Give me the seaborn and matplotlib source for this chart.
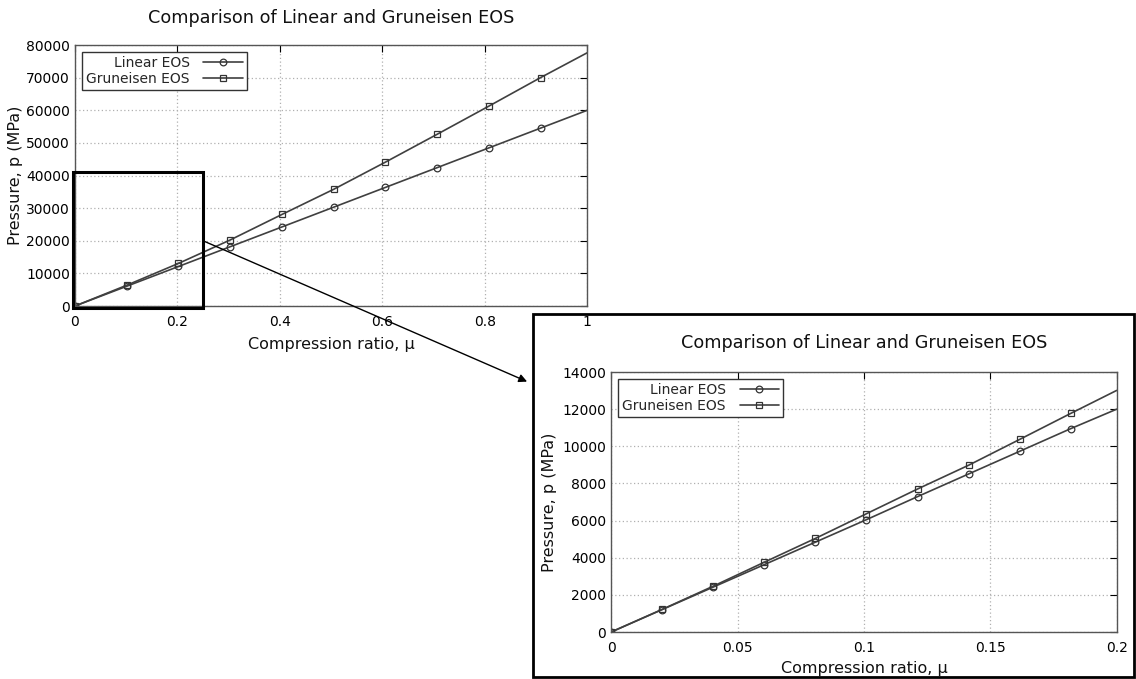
import matplotlib
matplotlib.use("Agg")
import matplotlib.pyplot as plt
import seaborn as sns
import pandas as pd
from matplotlib.lines import Line2D
from matplotlib.patches import Rectangle, ConnectionPatch
from matplotlib.ticker import FormatStrFormatter, MultipleLocator

# Full range: samples carrying markers (every tenth sample) plus the range end
mu_full = [0.0, 0.101, 0.202, 0.303, 0.404, 0.505, 0.606, 0.707, 0.808, 0.909, 1.0]
p_linear_full = [0, 6060, 12120, 18180, 24240, 30300, 36360, 42420, 48480, 54540, 60000]
p_gruneisen_full = [0, 6370, 13060, 20250, 28070, 35780, 44110, 52650, 61280, 70030, 77640]

# Low-compression detail
mu_zoom = [0.0, 0.0202, 0.0404, 0.0606, 0.0808, 0.101, 0.1212, 0.1414, 0.1616, 0.1818, 0.2]
p_linear_zoom = [0, 1210, 2420, 3630, 4840, 6050, 7290, 8510, 9730, 10950, 12000]
p_gruneisen_zoom = [0, 1220, 2470, 3760, 5040, 6370, 7700, 8980, 10370, 11770, 13010]

series_names = ["Linear EOS", "Gruneisen EOS"]
series_markers = ["o", "s"]
title_text = "Comparison of Linear and Gruneisen EOS"
x_label = "Compression ratio, \u03bc"
y_label = "Pressure, p (MPa)"

sns.set_theme(style="white")
plt.rcParams["font.family"] = ["DejaVu Sans"]

LINE = "#404040"
MARKER_STYLE = dict(markersize=4.8, markerfacecolor="none",
                    markeredgecolor="#333333", markeredgewidth=0.9)
fig = plt.figure(figsize=(11.36, 6.79), dpi=100)


def draw_panel(ax, mu, p_lin, p_gru, xmax, ymax, xstep, ystep):
    df = pd.DataFrame({"mu": mu, "Linear EOS": p_lin, "Gruneisen EOS": p_gru})
    marked = list(range(len(mu) - 1))
    for name, mk in zip(series_names, series_markers):
        sns.lineplot(data=df, x="mu", y=name, ax=ax, color=LINE, lw=1.2,
                     marker=mk, markevery=marked, legend=False, **MARKER_STYLE)
    ax.set_xlim(0, xmax)
    ax.set_ylim(0, ymax)
    ax.xaxis.set_major_locator(MultipleLocator(xstep))
    ax.yaxis.set_major_locator(MultipleLocator(ystep))
    ax.xaxis.set_major_formatter(FormatStrFormatter("%g"))
    ax.yaxis.set_major_formatter(FormatStrFormatter("%d"))
    ax.grid(True, linestyle=(0, (1, 2)), color="#b0b0b0", lw=0.9)
    ax.tick_params(direction="in", length=5, width=0.8, top=True, right=True,
                   labelsize=10, colors="black")
    ax.tick_params(axis="x", pad=6.5)
    ax.tick_params(axis="y", pad=3.5)
    for s in ax.spines.values():
        s.set_color("#555555")
        s.set_linewidth(1.0)
    ax.set_xlabel(x_label, fontsize=11.5, labelpad=6, color="#111111")
    ax.set_ylabel(y_label, fontsize=11.5, labelpad=2, color="#111111")
    handles = [Line2D([], [], color=LINE, lw=1.2, marker=mk, **MARKER_STYLE)
               for mk in series_markers]
    leg = ax.legend(handles, series_names, loc="upper left", markerfirst=False,
                    fontsize=10, frameon=True, fancybox=False, framealpha=1,
                    edgecolor="#333333", borderaxespad=0.5, borderpad=0.3,
                    labelspacing=0.12, handlelength=2.85, handletextpad=1.0)
    leg.get_frame().set_linewidth(1.0)
    return ax


ax_main = fig.add_axes([0.066, 0.5493, 0.451, 0.3844], zorder=0)
draw_panel(ax_main, mu_full, p_linear_full, p_gruneisen_full, 1.0, 80000, 0.2, 10000)
ax_main.set_title(title_text, fontsize=12.7, pad=15.5, color="#111111")

ax_zoom = fig.add_axes([0.538, 0.0692, 0.445, 0.3829], zorder=2)
draw_panel(ax_zoom, mu_zoom, p_linear_zoom, p_gruneisen_zoom, 0.2, 14000, 0.05, 2000)
ax_zoom.set_title(title_text, fontsize=12.7, pad=17.5, color="#111111")
ax_zoom.xaxis.labelpad = 4
ax_zoom.yaxis.labelpad = 4

# Frame around the detail panel
fig.add_artist(Rectangle((0.469, 0.003), 0.529, 0.534, transform=fig.transFigure,
                         fill=False, edgecolor="black", lw=2.0, zorder=1))

# Region of the full plot shown in detail
ax_main.add_patch(Rectangle((-0.004, -600), 0.254, 41600, fill=False,
                            edgecolor="black", lw=2.2, clip_on=False, zorder=6))

# Arrow linking the region to the detail panel
arrow = ConnectionPatch(xyA=(0.25, 20000), coordsA=ax_main.transData,
                        xyB=(0.464, 0.438), coordsB=fig.transFigure,
                        arrowstyle="-|>", mutation_scale=12, color="black",
                        lw=1.0, zorder=5)
fig.add_artist(arrow)

fig.savefig("out.png", dpi=100)
